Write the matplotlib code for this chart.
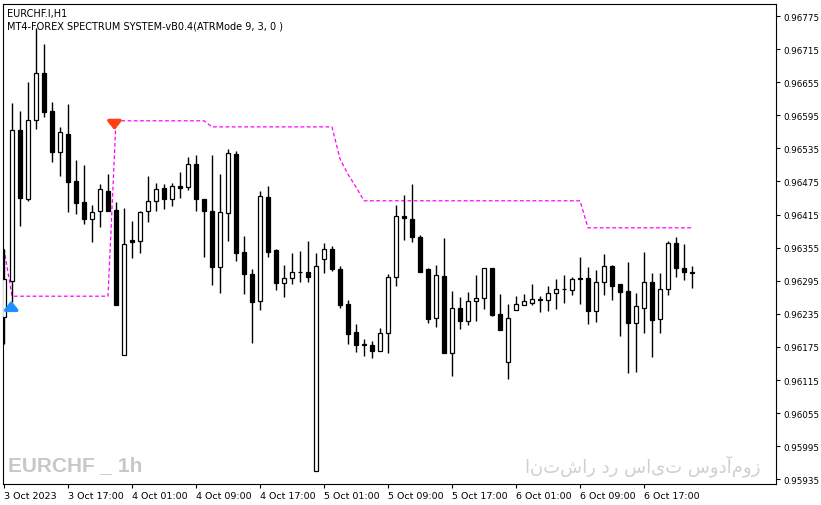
import matplotlib
matplotlib.use("Agg")
import matplotlib.pyplot as plt
import numpy as np

opens = [0.96229,0.96295,0.96568,0.96443,0.96586,0.96672,0.96603,0.96528,0.96561,0.96476,
         0.96438,0.96407,0.96421,0.96458,0.96423,0.96160,0.96369,0.96367,0.96421,0.96440,
         0.96463,0.96443,0.96467,0.96465,0.96507,0.96443,0.96421,0.96320,0.96418,0.96525,
         0.96347,0.96307,0.96258,0.96447,0.96351,0.96291,0.96300,0.96311,0.96311,0.95950,
         0.96334,0.96353,0.96316,0.96253,0.96202,0.96180,0.96178,0.96168,0.96200,0.96302,
         0.96412,0.96407,0.96374,0.96316,0.96227,0.96304,0.96164,0.96246,0.96222,0.96258,
         0.96264,0.96318,0.96235,0.96148,0.96242,0.96251,0.96255,0.96262,0.96260,0.96273,
         0.96280,0.96278,0.96300,0.96300,0.96240,0.96293,0.96322,0.96289,0.96276,0.96218,
         0.96246,0.96293,0.96226,0.96280,0.96363,0.96318,0.96311]
closes = [0.96298,0.96568,0.96445,0.96586,0.96672,0.96601,0.96528,0.96565,0.96474,0.96436,
          0.96407,0.96420,0.96461,0.96421,0.96251,0.96362,0.96365,0.96420,0.96440,0.96461,
          0.96443,0.96467,0.96463,0.96507,0.96443,0.96421,0.96320,0.96420,0.96527,0.96345,
          0.96307,0.96257,0.96449,0.96347,0.96291,0.96300,0.96311,0.96311,0.96302,0.96322,
          0.96353,0.96316,0.96251,0.96198,0.96178,0.96178,0.96168,0.96200,0.96302,0.96412,
          0.96409,0.96374,0.96311,0.96226,0.96305,0.96164,0.96246,0.96222,0.96258,0.96264,
          0.96318,0.96233,0.96206,0.96227,0.96253,0.96258,0.96262,0.96260,0.96273,0.96280,
          0.96280,0.96298,0.96298,0.96240,0.96293,0.96322,0.96285,0.96275,0.96218,0.96249,
          0.96293,0.96224,0.96280,0.96363,0.96318,0.96311,0.96309]
highs = [0.96353,0.96617,0.96603,0.96655,0.96753,0.96724,0.96619,0.96574,0.96615,0.96514,
         0.96505,0.96432,0.96470,0.96488,0.96438,0.96427,0.96403,0.96421,0.96485,0.96472,
         0.96470,0.96472,0.96492,0.96519,0.96523,0.96443,0.96523,0.96488,0.96534,0.96530,
         0.96376,0.96316,0.96458,0.96467,0.96353,0.96324,0.96345,0.96349,0.96367,0.96345,
         0.96363,0.96358,0.96322,0.96260,0.96217,0.96189,0.96186,0.96209,0.96307,0.96432,
         0.96450,0.96470,0.96378,0.96318,0.96324,0.96372,0.96276,0.96265,0.96275,0.96305,
         0.96318,0.96318,0.96271,0.96253,0.96267,0.96271,0.96289,0.96267,0.96285,0.96298,
         0.96305,0.96302,0.96338,0.96320,0.96315,0.96343,0.96324,0.96289,0.96329,0.96273,
         0.96347,0.96309,0.96309,0.96367,0.96374,0.96362,0.96322]
lows = [0.96180,0.96257,0.96394,0.96440,0.96570,0.96592,0.96510,0.96485,0.96420,0.96416,
        0.96398,0.96365,0.96392,0.96421,0.96251,0.96160,0.96336,0.96345,0.96401,0.96421,
        0.96425,0.96430,0.96445,0.96459,0.96421,0.96338,0.96287,0.96273,0.96367,0.96331,
        0.96271,0.96182,0.96242,0.96338,0.96278,0.96265,0.96289,0.96293,0.96293,0.95950,
        0.96309,0.96313,0.96246,0.96180,0.96166,0.96159,0.96155,0.96168,0.96164,0.96285,
        0.96369,0.96365,0.96311,0.96218,0.96211,0.96164,0.96122,0.96207,0.96215,0.96222,
        0.96244,0.96231,0.96206,0.96117,0.96242,0.96251,0.96251,0.96238,0.96240,0.96244,
        0.96255,0.96269,0.96253,0.96217,0.96220,0.96269,0.96260,0.96195,0.96128,0.96130,
        0.96200,0.96157,0.96200,0.96269,0.96302,0.96296,0.96282]
stop_line = ([0.96353] + [0.96267]*13 + [0.96585]*12 + [0.96574]*16 +
             [0.96516, 0.96488, 0.96465] + [0.96440]*28 + [0.96391]*14)

tick_prices = [0.96775,0.96715,0.96655,0.96595,0.96535,0.96475,0.96415,0.96355,
               0.96295,0.96235,0.96175,0.96115,0.96055,0.95995,0.95935]
xtick_pos = [0,8,16,24,32,40,48,56,64,72,80]
xtick_labels = ["3 Oct 2023","3 Oct 17:00","4 Oct 01:00","4 Oct 09:00","4 Oct 17:00",
                "5 Oct 01:00","5 Oct 09:00","5 Oct 17:00","6 Oct 01:00","6 Oct 09:00","6 Oct 17:00"]

W, H = 821, 506
fig = plt.figure(figsize=(W/100, H/100), dpi=100)
ax = fig.add_axes([3/W, (H-485)/H, 773/W, 480/H])
n = len(opens)
x = np.arange(n)
o = np.array(opens); c = np.array(closes)
ax.vlines(x, lows, highs, color="black", lw=1, zorder=2)
up = c >= o
ax.bar(x[up], c[up]-o[up], bottom=o[up], width=0.62, color="white", edgecolor="black", lw=0.9, zorder=3)
ax.bar(x[~up], c[~up]-o[~up], bottom=o[~up], width=0.62, color="black", edgecolor="black", lw=0.9, zorder=3)
ax.plot(np.arange(len(stop_line)), stop_line, color="#ff00ff", lw=0.9, ls=(0,(3,2)), zorder=1)

ax.annotate("", xy=(0.9, stop_line[1]-0.00003), xytext=(0.9, stop_line[1]-0.00030),
            arrowprops=dict(arrowstyle="-|>,head_width=0.4,head_length=0.5", color="#1e90ff", lw=2.5))
ax.annotate("", xy=(13.8, stop_line[14]-0.00022), xytext=(13.8, stop_line[14]+0.00002),
            arrowprops=dict(arrowstyle="-|>,head_width=0.4,head_length=0.5", color="#ff4010", lw=2.5))

ax.set_xlim(-0.125, 96.5)
ax.set_ylim(0.959265, 0.967968)
ax.yaxis.tick_right()
ax.set_yticks(tick_prices)
ax.set_yticklabels([f"{p:.5f}" for p in tick_prices], fontsize=6.3)
ax.set_xticks(xtick_pos)
ax.set_xticklabels(xtick_labels, fontsize=6.8, ha="left")
ax.tick_params(axis="both", length=3, width=0.8, pad=2)
for s in ax.spines.values():
    s.set_linewidth(0.8)

ax.text(0.005, 0.992, "EURCHF.I,H1", transform=ax.transAxes, fontsize=7, va="top")
ax.text(0.005, 0.965, "MT4-FOREX SPECTRUM SYSTEM-vB0.4(ATRMode 9, 3, 0 )", transform=ax.transAxes, fontsize=7, va="top")
ax.text(0.007, 0.04, "EURCHF _ 1h", transform=ax.transAxes, fontsize=15, fontweight="bold",
        color="#c8c8c8", va="center", family=["Liberation Sans Narrow", "Liberation Sans", "DejaVu Sans"])
ax.text(0.98, 0.04, "انتشار در سایت سودآموز", transform=ax.transAxes, fontsize=13,
        color="#d0d0d0", va="center", ha="right", family=["DejaVu Sans"])
fig.savefig("out.png", dpi=100)
